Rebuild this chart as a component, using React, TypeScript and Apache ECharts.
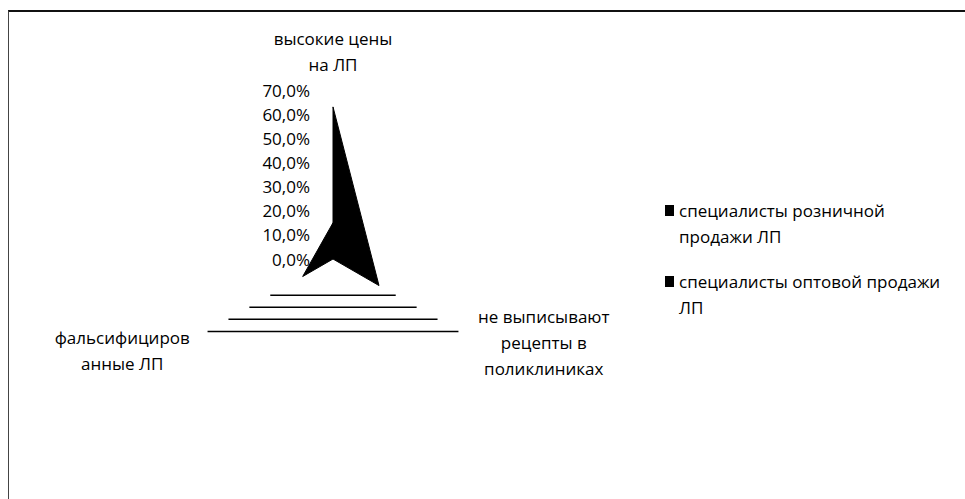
import React, { useEffect, useRef } from 'react';
import * as echarts from 'echarts';

// Radar axes, in drawing order (top, lower-left, lower-right)
const indicatorNames = [
  'высокие цены\nна ЛП',
  'фальсифициров\nанные ЛП',
  'не выписывают\nрецепты в\nполиклиниках',
];
const axisMax = 0.7;
const tickStep = 0.1;

const seriesNames = [
  'специалисты розничной продажи ЛП',
  'специалисты оптовой продажи ЛП',
];
const legendLines = [
  ['специалисты розничной', 'продажи ЛП'],
  ['специалисты оптовой продажи', 'ЛП'],
];

// Shares per axis, same order as indicatorNames
const retailValues = [0.63, 0.0, 0.22];
const wholesaleValues = [0.15, 0.145, 0.0];

// Levels whose lower polygon edges are drawn
const gridLevels = [0.3, 0.4, 0.5, 0.6];

const FONT = 'Open Sans';
const FS = 17;
const CX = 333;
const CY = 259;
const R = 169;
const Y_MIN = -0.4;

const fmtPct = (v: number) => (v * 100).toFixed(1).replace('.', ',') + '%';

// Per-axis name box width, plus spacer lines placed before / after the text
const nameWidths = [130, 134, 134];
const nameSpaceBefore = [0, 16, 0];
const nameSpaceAfter = [16, 0, 0];

export default function App() {
  const ref = useRef<HTMLDivElement>(null);

  useEffect(() => {
    if (!ref.current) return;
    const chart = echarts.init(ref.current, undefined, { renderer: 'svg' });
    const cos30 = Math.cos(Math.PI / 6);
    const sin30 = Math.sin(Math.PI / 6);

    const rich: Record<string, any> = {};
    nameWidths.forEach((w, i) => {
      rich[`n${i}`] = { width: w, align: 'center', fontFamily: FONT, fontSize: FS, lineHeight: 26, color: '#000' };
      rich[`b${i}`] = { width: w, fontSize: 2, lineHeight: nameSpaceBefore[i] };
      rich[`a${i}`] = { width: w, fontSize: 2, lineHeight: nameSpaceAfter[i] };
    });

    chart.setOption({
      animation: false,
      backgroundColor: '#fff',
      legend: {
        data: seriesNames,
        orient: 'vertical',
        left: 655,
        top: 197,
        icon: 'none',
        itemWidth: 0,
        itemHeight: 10,
        itemGap: 28,
        selectedMode: false,
        formatter: (name: string) => {
          const lines = legendLines[seriesNames.indexOf(name)];
          return lines
            .map((l, i) => (i === 0 ? `{sq| }{g| }{t|${l}}` : `{sp| }{t|${l}}`))
            .join('\n');
        },
        textStyle: {
          rich: {
            sq: { backgroundColor: '#000', width: 9, height: 11 },
            g: { width: 5 },
            sp: { width: 14 },
            t: { fontFamily: FONT, fontSize: FS, lineHeight: 26, color: '#000' },
          },
        },
      },
      radar: {
        center: [CX, CY],
        radius: R,
        startAngle: 90,
        shape: 'polygon',
        splitNumber: 7,
        indicator: indicatorNames.map((name) => ({ name, max: axisMax, min: 0 })),
        axisLine: { show: false },
        splitLine: { show: false },
        splitArea: { show: false },
        axisTick: { show: false },
        axisLabel: { show: false },
        nameGap: -3,
        axisName: {
          formatter: (name: string) => {
            const idx = indicatorNames.indexOf(name);
            const parts = name.split('\n').map((l) => `{n${idx}|${l}}`);
            if (nameSpaceBefore[idx]) parts.unshift(`{b${idx}| }`);
            if (nameSpaceAfter[idx]) parts.push(`{a${idx}| }`);
            return parts.join('\n');
          },
          rich,
        },
      },
      grid: {
        left: CX - R,
        top: CY - R,
        width: 2 * R,
        height: (R * (axisMax - Y_MIN)) / axisMax,
      },
      xAxis: {
        type: 'value',
        min: -axisMax,
        max: axisMax,
        show: false,
      },
      yAxis: {
        type: 'value',
        min: Y_MIN,
        max: axisMax,
        interval: tickStep,
        offset: -R,
        axisLine: { show: false, onZero: false },
        axisTick: { show: false },
        splitLine: { show: false },
        axisLabel: {
          margin: 23,
          fontFamily: FONT,
          fontSize: FS,
          color: '#000',
          formatter: (v: number) => (v < -1e-9 ? '' : fmtPct(v)),
        },
      },
      series: [
        {
          type: 'custom',
          silent: true,
          coordinateSystem: 'cartesian2d',
          data: gridLevels.map((v) => [v]),
          renderItem: (_p: any, api: any) => {
            const v = api.value(0);
            const a = api.coord([-v * cos30, -v * sin30]);
            const b = api.coord([v * cos30, -v * sin30]);
            return {
              type: 'line',
              shape: { x1: a[0], y1: a[1], x2: b[0], y2: b[1] },
              style: { stroke: '#000', lineWidth: 1.5 },
            };
          },
        },
        {
          type: 'radar',
          symbol: 'none',
          data: [
            { name: seriesNames[0], value: retailValues },
            { name: seriesNames[1], value: wholesaleValues },
          ],
          itemStyle: { color: '#000' },
          lineStyle: { color: '#000', width: 1 },
          areaStyle: { color: '#000', opacity: 1 },
        },
      ],
    });

    return () => chart.dispose();
  }, []);

  return (
    <div style={{ position: 'fixed', left: 0, top: 0, width: 965, height: 499, background: '#fff' }}>
      <div ref={ref} style={{ position: 'absolute', left: 0, top: 0, width: 965, height: 499 }} />
      <div
        style={{
          position: 'absolute',
          left: 8,
          top: 10,
          width: 970,
          height: 500,
          borderTop: '2px solid #111',
          borderLeft: '1px solid #444',
          pointerEvents: 'none',
        }}
      />
    </div>
  );
}
